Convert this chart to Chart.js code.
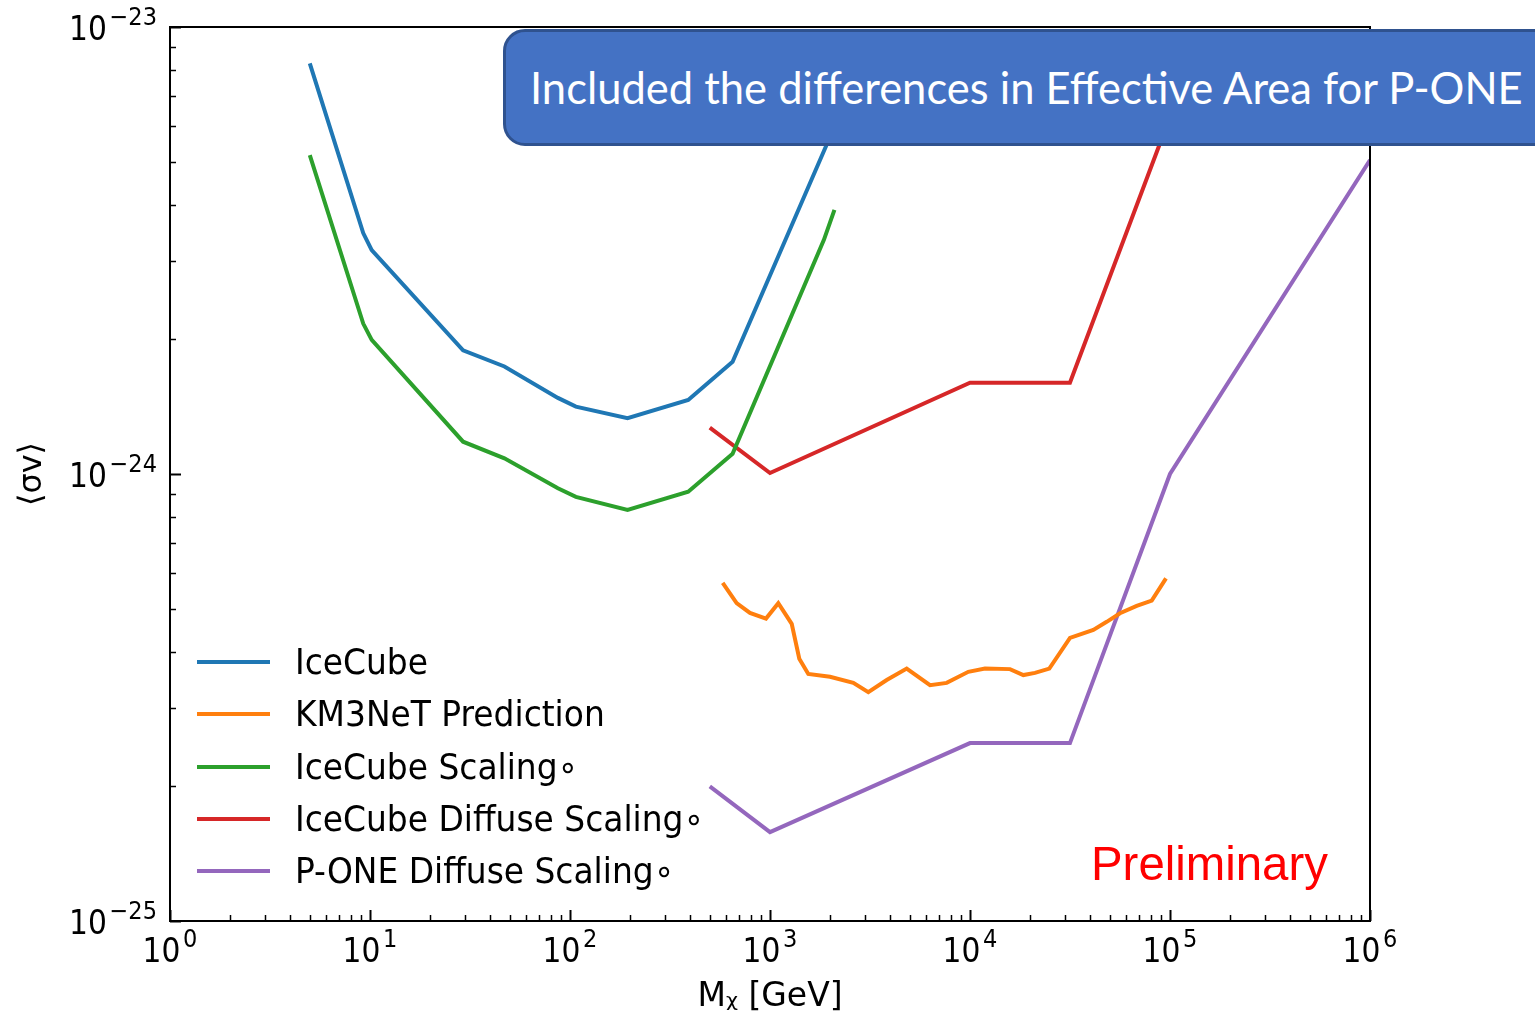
<!DOCTYPE html>
<html>
<head>
<meta charset="utf-8">
<script src="https://cdn.jsdelivr.net/npm/chart.js@4.4.0/dist/chart.umd.min.js"></script>
<style>
  html, body { margin: 0; padding: 0; background: #fff; }
  #wrap { position: relative; width: 1535px; height: 1019px; overflow: hidden; }
  #c { position: absolute; left: 0; top: 0; }
  #note {
    position: absolute; left: 503px; top: 29px; width: 1100px; height: 117px;
    box-sizing: border-box; background: #4472c4; border: 3px solid #2f528f;
    border-radius: 22px; color: #fff; font-family: Lato, "Open Sans", sans-serif;
    font-size: 40px; line-height: 111px; padding-left: 24px; white-space: nowrap;
  }
  #prelim {
    position: absolute; left: 1091px; top: 836px; color: #ff0000;
    font-family: "Liberation Sans", Arial, sans-serif; font-size: 46px; white-space: nowrap;
  }
  #legend { position: absolute; left: 197px; top: 636px; font-family: "DejaVu Sans", sans-serif; }
  .row { display: flex; align-items: center; height: 52.3px; }
  .swatch { width: 73px; height: 4px; margin-right: 25px; flex: none; }
  .lbl { font-size: 35px; color: #000; white-space: nowrap; transform: scaleX(0.94); transform-origin: left center; }
</style>
</head>
<body>
<div id="wrap">
  <canvas id="c" width="1535" height="1019"></canvas>
  <div id="legend"></div>
  <div id="prelim"><span id="prelimText">Preliminary</span></div>
  <div id="note"><span id="noteText">Included the differences in Effective Area for P-ONE</span></div>
</div>
<script>
// values
const massIceCube = [5, 9.25, 10.2, 29.2, 47, 87, 107, 194, 390, 650, 2000];
const svIceCube = [8.29e-24, 3.46e-24, 3.17e-24, 1.89e-24, 1.74e-24, 1.48e-24, 1.415e-24, 1.333e-24, 1.464e-24, 1.783e-24, 5.69e-24];

const massScaling = [5, 9.25, 10.2, 29.2, 47, 87, 107, 194, 390, 650, 1860, 2100];
const svScaling = [5.17e-24, 2.17e-24, 1.995e-24, 1.181e-24, 1.084e-24, 9.29e-25, 8.89e-25, 8.31e-25, 9.13e-25, 1.11e-24, 3.34e-24, 3.90e-24];

const massKM3 = [580, 681, 794, 955, 1100, 1284, 1401, 1554, 1995, 2610, 3101, 3832, 4825, 6310, 7645, 9806,
  11885, 15850, 18480, 21130, 24920, 31620, 41360, 48250, 56230, 68150, 81030, 95500];
const svKM3 = [5.71e-25, 5.14e-25, 4.89e-25, 4.75e-25, 5.14e-25, 4.62e-25, 3.86e-25, 3.57e-25, 3.52e-25, 3.41e-25,
  3.25e-25, 3.46e-25, 3.67e-25, 3.37e-25, 3.41e-25, 3.61e-25, 3.67e-25, 3.66e-25, 3.55e-25, 3.59e-25, 3.67e-25,
  4.30e-25, 4.48e-25, 4.67e-25, 4.88e-25, 5.07e-25, 5.21e-25, 5.84e-25];

const massDiffIce = [500, 1000, 10000, 31600, 100000];
const svDiffIce = [1.27e-24, 1.005e-24, 1.6e-24, 1.6e-24, 6.3e-24];

const massDiffPone = [500, 1000, 10000, 31600, 100000, 1000000];
const svDiffPone = [2.0e-25, 1.58e-25, 2.5e-25, 2.5e-25, 1.0e-24, 5.04e-24];

const xTickExp = [0, 1, 2, 3, 4, 5, 6];
const yTickExp = [-25, -24, -23];

const seriesNames = ['IceCube', 'KM3NeT Prediction', 'IceCube Scaling\u2218', 'IceCube Diffuse Scaling\u2218', 'P-ONE Diffuse Scaling\u2218'];
const seriesColors = ['#1f77b4', '#ff7f0e', '#2ca02c', '#d62728', '#9467bd'];

function pts(xs, ys) { return xs.map((x, i) => ({ x: x, y: ys[i] })); }

// "10" with a raised exponent, a bit narrower like the stretched original
const baseFont = '33px "DejaVu Sans"';
const supFont = '25px "DejaVu Sans"';
const squeeze = 0.9;
function drawPow(ctx, e, anchorX, baseY, align) {
  const supTxt = String(e).replace('-', '\u2212');
  ctx.font = baseFont;
  const wb = ctx.measureText('10').width;
  ctx.font = supFont;
  const ws = ctx.measureText(supTxt).width;
  const total = (wb + 3 + ws) * squeeze;
  const left = align === 'center' ? anchorX - total / 2 : anchorX - total;
  ctx.save();
  ctx.translate(left, 0);
  ctx.scale(squeeze, 1);
  ctx.font = baseFont;
  ctx.fillText('10', 0, baseY);
  ctx.font = supFont;
  ctx.fillText(supTxt, wb + 3, baseY - 15);
  ctx.restore();
}

// inward ticks, frame and power-of-ten labels like matplotlib
const frameTicks = {
  id: 'frameTicks',
  afterDatasetsDraw(chart) {
    const { ctx, chartArea: a, scales: { x, y } } = chart;
    ctx.save();
    ctx.strokeStyle = '#000';
    ctx.fillStyle = '#000';
    ctx.textBaseline = 'alphabetic';
    for (let e = xTickExp[0]; e <= xTickExp[xTickExp.length - 1]; e++) {
      for (let m = 1; m < 10; m++) {
        const v = m * Math.pow(10, e);
        if (v > 1.0001e6) break;
        const px = Math.round(x.getPixelForValue(v)) + 0.5;
        ctx.lineWidth = m === 1 ? 2 : 1.5;
        ctx.beginPath();
        ctx.moveTo(px, a.bottom);
        ctx.lineTo(px, a.bottom - (m === 1 ? 11 : 6));
        ctx.stroke();
      }
    }
    for (let e = yTickExp[0]; e <= yTickExp[yTickExp.length - 1]; e++) {
      for (let m = 1; m < 10; m++) {
        const v = m * Math.pow(10, e);
        if (v > 1.0001e-23) break;
        const py = Math.round(y.getPixelForValue(v)) + 0.5;
        ctx.lineWidth = m === 1 ? 2 : 1.5;
        ctx.beginPath();
        ctx.moveTo(a.left, py);
        ctx.lineTo(a.left + (m === 1 ? 11 : 6), py);
        ctx.stroke();
      }
    }
    ctx.lineWidth = 2;
    ctx.strokeRect(a.left, a.top, a.right - a.left, a.bottom - a.top);

    xTickExp.forEach(e => drawPow(ctx, e, x.getPixelForValue(Math.pow(10, e)), a.bottom + 41, 'center'));
    yTickExp.forEach(e => drawPow(ctx, e, a.left - 13, y.getPixelForValue(Math.pow(10, e)) + 13, 'right'));
    ctx.restore();
  }
};

const ds = (i, data) => ({
  label: seriesNames[i], data: data, borderColor: seriesColors[i], backgroundColor: seriesColors[i],
  borderWidth: 4, pointRadius: 0, tension: 0, fill: false
});

const chart = new Chart(document.getElementById('c'), {
  type: 'line',
  data: {
    datasets: [
      ds(0, pts(massIceCube, svIceCube)),
      ds(1, pts(massKM3, svKM3)),
      ds(2, pts(massScaling, svScaling)),
      ds(3, pts(massDiffIce, svDiffIce)),
      ds(4, pts(massDiffPone, svDiffPone))
    ]
  },
  options: {
    responsive: false,
    animation: false,
    layout: { padding: { top: 27, right: 165, left: 0, bottom: 0 } },
    plugins: { legend: { display: false }, tooltip: { enabled: false } },
    scales: {
      x: {
        type: 'logarithmic', min: 1, max: 1e6,
        afterBuildTicks: s => { s.ticks = xTickExp.map(e => ({ value: Math.pow(10, e) })); },
        afterFit: s => { s.height = 98; },
        grid: { display: false, drawTicks: false },
        border: { display: false },
        ticks: { display: false },
        title: { display: true, text: 'M\u1d6a [GeV]', color: '#000', padding: { bottom: 2 },
          font: { family: 'DejaVu Sans', size: 33 } }
      },
      y: {
        type: 'logarithmic', min: 1e-25, max: 1e-23,
        afterBuildTicks: s => { s.ticks = yTickExp.map(e => ({ value: Math.pow(10, e) })); },
        afterFit: s => { s.width = 170; },
        grid: { display: false, drawTicks: false },
        border: { display: false },
        ticks: { display: false },
        title: { display: true, text: '\u27e8\u03c3v\u27e9', color: '#000', padding: { top: 13 },
          font: { family: 'DejaVu Sans', size: 32 } }
      }
    }
  },
  plugins: [frameTicks]
});

// legend built from the chart datasets
const legend = document.getElementById('legend');
chart.data.datasets.forEach(d => {
  const row = document.createElement('div');
  row.className = 'row';
  row.innerHTML = '<span class="swatch" style="background:' + d.borderColor + '"></span><span class="lbl">' + d.label + '</span>';
  legend.appendChild(row);
});

// fit free text to the width it has in the picture
function fitText(el, target) {
  const w = el.getBoundingClientRect().width;
  const fs = parseFloat(getComputedStyle(el.parentNode).fontSize);
  el.parentNode.style.fontSize = (fs * target / w) + 'px';
}
fitText(document.getElementById('noteText'), 993);
fitText(document.getElementById('prelimText'), 237);
</script>
</body>
</html>
